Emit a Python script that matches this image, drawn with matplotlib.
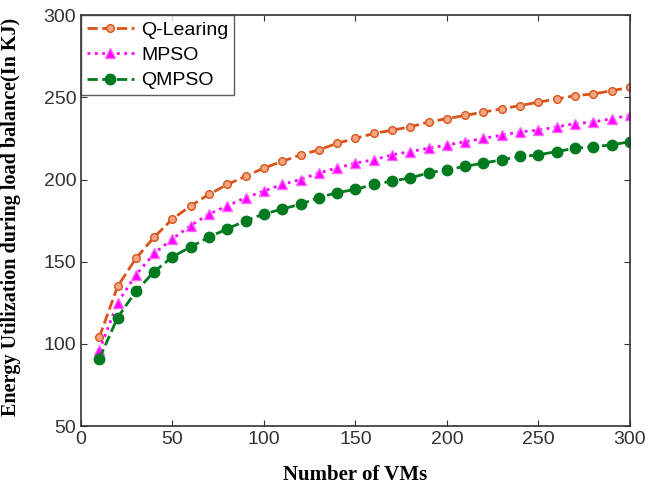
import matplotlib.pyplot as plt

vms = list(range(10, 301, 10))
q_learning = [104, 135, 152, 165, 176, 184, 191, 197, 202, 207, 211, 215, 218, 222, 225,
              228, 230, 232, 235, 237, 239, 241, 243, 245, 247, 249, 251, 252, 254, 256]
mpso = [96, 125, 142, 155, 164, 172, 179, 184, 189, 193, 197, 200, 204, 207, 210,
        212, 215, 217, 219, 221, 223, 225, 227, 229, 230, 232, 234, 235, 237, 239]
qmpso = [91, 116, 132, 144, 153, 159, 165, 170, 175, 179, 182, 185, 189, 192, 194,
         197, 199, 201, 204, 206, 208, 210, 212, 214, 215, 217, 219, 220, 221, 223]

plt.rcParams['font.family'] = ['Liberation Sans', 'DejaVu Sans']

fig = plt.figure(figsize=(6.48, 4.87), dpi=100)
ax = fig.add_axes([0.125, 0.125, 0.847, 0.844])

ax.plot(vms, q_learning, '--o', color='#D95319', lw=2, ms=5.5, mfc='#F4A582',
        mec='#D95319', label='Q-Learing')
ax.plot(vms, mpso, ':^', color='#FF00FF', lw=2, ms=7, mfc='#FF00FF',
        mec='#FF66FF', label='MPSO')
ax.plot(vms, qmpso, '--o', color='#007A1F', lw=2, ms=7.5, mfc='#007A1F',
        mec='#007A1F', label='QMPSO')

ax.set_xlim(0, 300)
ax.set_ylim(50, 300)
ax.set_xticks(range(0, 301, 50))
ax.set_yticks(range(50, 301, 50))
ax.tick_params(direction='in', labelsize=14, colors='#333333', length=4,
               top=True, right=True)
for s in ax.spines.values():
    s.set_color('#333333')
    s.set_linewidth(1.2)

ax.set_xlabel('Number of VMs', family='Liberation Serif', fontweight='bold', fontsize=15,
              labelpad=12)
ax.set_ylabel('Energy Utilization during load balance(In KJ)', family='Liberation Serif',
              fontweight='bold', fontsize=14.5)
ax.yaxis.set_label_coords(-0.11, 0.51)

leg = ax.legend(loc='upper left', fontsize=14, frameon=True, fancybox=False,
                borderaxespad=0.0, handlelength=2.4, borderpad=0.3, labelspacing=0.4,
                handletextpad=0.4)
leg.get_frame().set_edgecolor('#333333')
leg.get_frame().set_linewidth(1.0)

plt.savefig('out.png', dpi=100)
